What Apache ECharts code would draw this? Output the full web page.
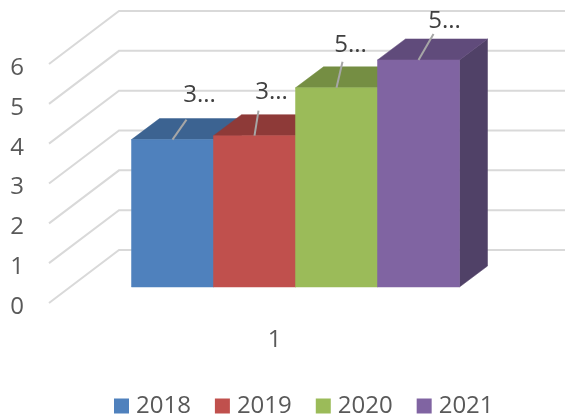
<!DOCTYPE html>
<html>
<head>
<meta charset="utf-8">
<style>html,body{margin:0;padding:0;background:#fff}#c{width:565px;height:417px}</style>
<script src="https://cdn.jsdelivr.net/npm/echarts@6/dist/echarts.min.js"></script>
</head>
<body>
<div id="c"></div>
<script>
const categories = ['1'];
const years = ['2018', '2019', '2020', '2021'];
const values = [3.7, 3.8, 5.0, 5.7];
const dataLabels = ['3...', '3...', '5...', '5...'];
const ticks = [0, 1, 2, 3, 4, 5, 6];

const frontColors = ['#4F81BD', '#C0504D', '#9BBB59', '#8064A2'];
const topColors = ['#3C6391', '#8E3A38', '#758E43', '#604B7B'];
const sideColors = ['#34557C', '#7A302E', '#647A39', '#504167'];
const leaderOffsets = [[14, -20], [4, -25], [6, -26], [15, -26]];
const textOffsets = [[27, -44], [17, -43], [14, -43], [26, -39]];

const FONT = '"Open Sans", sans-serif';
const TEXT = '#595959';
const wall = [70, -53], barShift = [21, -16], barDepth = [28, -21];
const gapBands = 5.5;

const chart = echarts.init(document.getElementById('c'), null, { renderer: 'canvas' });

function poly(points, fill) {
  return { type: 'polygon', shape: { points }, style: { fill, stroke: fill, lineWidth: 0.5 } };
}

function renderBar(i) {
  return function (params, api) {
    const band = api.size([1, 0])[0];
    const w = band / gapBands;
    const c = api.coord([api.value(0), 0]);
    const t = api.coord([api.value(0), api.value(1)]);
    const x0 = c[0] - 2 * w + i * w + barShift[0];
    const x1 = x0 + w;
    const yb = c[1] + barShift[1];
    const yt = t[1] + barShift[1];
    const dx = barDepth[0], dy = barDepth[1];
    const mid = (x0 + x1) / 2;
    const children = [
      poly([[x1, yt], [x1 + dx, yt + dy], [x1 + dx, yb + dy], [x1, yb]], sideColors[i]),
      poly([[x0, yt], [x0 + dx, yt + dy], [x1 + dx, yt + dy], [x1, yt]], topColors[i]),
      poly([[x0, yt], [x1, yt], [x1, yb], [x0, yb]], frontColors[i]),
      {
        type: 'line',
        shape: { x1: mid, y1: yt, x2: mid + leaderOffsets[i][0], y2: yt + leaderOffsets[i][1] },
        style: { stroke: '#A6A6A6', lineWidth: 2 }
      },
      {
        type: 'text',
        style: {
          text: dataLabels[i], x: mid + textOffsets[i][0], y: yt + textOffsets[i][1],
          align: 'center', verticalAlign: 'middle',
          font: '24px ' + FONT, fill: '#404040'
        }
      }
    ];
    return { type: 'group', children };
  };
}

const barSeries = years.map((name, i) => ({
  type: 'custom',
  name,
  coordinateSystem: 'cartesian2d',
  clip: false,
  z: 3,
  itemStyle: { color: frontColors[i] },
  renderItem: renderBar(i),
  encode: { x: 0, y: 1 },
  data: [[0, values[i]]]
}));

const wallSeries = {
  type: 'custom',
  name: 'grid',
  coordinateSystem: 'cartesian2d',
  clip: false,
  z: 1,
  silent: true,
  encode: { x: 0, y: 1 },
  data: ticks.map(t => [0, t]),
  renderItem(params, api) {
    const band = api.size([1, 0])[0];
    const c = api.coord([api.value(0), api.value(1)]);
    const xl = c[0] - band / 2;
    const xr = c[0] + band / 2 + wall[0];
    return {
      type: 'polyline',
      shape: { points: [[xl, c[1]], [xl + wall[0], c[1] + wall[1]], [xr, c[1] + wall[1]]] },
      style: { stroke: '#D9D9D9', lineWidth: 2, fill: null }
    };
  }
};

chart.setOption({
  animation: false,
  backgroundColor: '#fff',
  grid: { left: 49, top: 64, width: 451, height: 239, containLabel: false },
  xAxis: {
    type: 'category',
    data: categories,
    axisLine: { show: false },
    axisTick: { show: false },
    splitLine: { show: false },
    axisLabel: { color: TEXT, fontFamily: FONT, fontSize: 24, margin: 25 }
  },
  yAxis: {
    type: 'value',
    min: 0,
    max: 6,
    interval: 1,
    axisLine: { show: false },
    axisTick: { show: false },
    splitLine: { show: false },
    axisLabel: { color: TEXT, fontFamily: FONT, fontSize: 24, margin: 25, verticalAlign: 'top', lineHeight: 8 }
  },
  legend: {
    data: years,
    left: 114,
    top: 394,
    itemWidth: 15,
    itemHeight: 15,
    itemGap: 24,
    padding: 0,
    icon: 'rect',
    textStyle: { color: TEXT, fontFamily: FONT, fontSize: 24, padding: [0, 0, 0, 2] }
  },
  series: [wallSeries, ...barSeries]
});
</script>
</body>
</html>
